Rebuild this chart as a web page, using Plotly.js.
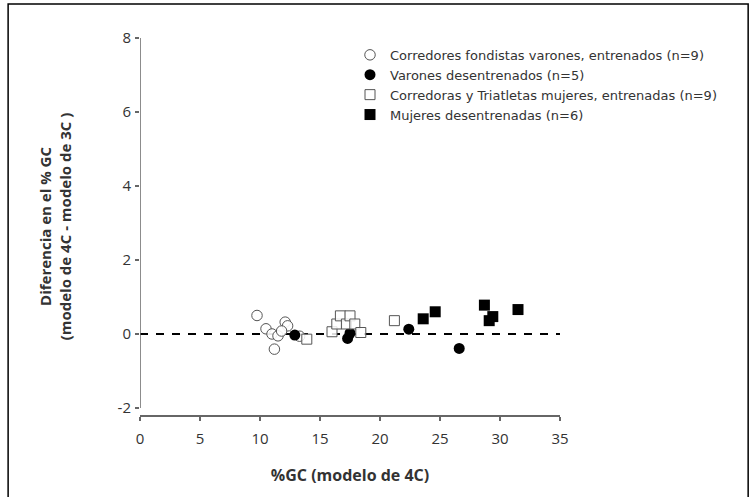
<!DOCTYPE html>
<html>
<head>
<meta charset="utf-8">
<script src="https://cdn.plot.ly/plotly-3.0.1.min.js"></script>
<style>html,body{margin:0;padding:0;background:#fff;}#chart{width:755px;height:497px;}</style>
</head>
<body>
<div id="chart"></div>
<script>
// Data
const seriesNames = [
  "Corredores fondistas varones, entrenados (n=9)",
  "Varones desentrenados (n=5)",
  "Corredoras y Triatletas mujeres, entrenadas (n=9)",
  "Mujeres desentrenadas (n=6)"
];
const menTrainedX = [9.75, 10.5, 11.0, 11.5, 11.2, 12.1, 12.3, 11.8, 13.3];
const menTrainedY = [0.50, 0.14, 0.00, -0.05, -0.41, 0.32, 0.22, 0.08, -0.06];
const menUntrainedX = [12.9, 17.3, 17.5, 22.4, 26.6];
const menUntrainedY = [-0.03, -0.12, 0.02, 0.13, -0.39];
const womenTrainedX = [13.9, 16.0, 16.4, 16.7, 17.2, 17.5, 17.9, 18.4, 21.2];
const womenTrainedY = [-0.14, 0.06, 0.27, 0.49, 0.27, 0.49, 0.27, 0.04, 0.36];
const womenUntrainedX = [23.6, 24.6, 28.7, 29.1, 29.4, 31.5];
const womenUntrainedY = [0.41, 0.60, 0.78, 0.36, 0.47, 0.66];
const xTicks = [0, 5, 10, 15, 20, 25, 30, 35];
const yTicks = [-2, 0, 2, 4, 6, 8];

const FONT = "'Open Sans', Lato, sans-serif";
const LEGFONT = "'DejaVu Sans', 'Open Sans', sans-serif";
const traces = [
  {x: menTrainedX, y: menTrainedY, name: seriesNames[0], mode: "markers", type: "scatter", cliponaxis: false,
   marker: {symbol: "circle", size: 10.5, color: "rgba(255,255,255,0.9)", line: {color: "#555", width: 1}}},
  {x: menUntrainedX, y: menUntrainedY, name: seriesNames[1], mode: "markers", type: "scatter", cliponaxis: false,
   marker: {symbol: "circle", size: 11, color: "#000", line: {color: "#000", width: 0}}},
  {x: womenTrainedX, y: womenTrainedY, name: seriesNames[2], mode: "markers", type: "scatter", cliponaxis: false,
   marker: {symbol: "square", size: 10, color: "rgba(255,255,255,0.85)", line: {color: "#555", width: 1}}},
  {x: womenUntrainedX, y: womenUntrainedY, name: seriesNames[3], mode: "markers", type: "scatter", cliponaxis: false,
   marker: {symbol: "square", size: 11, color: "#000", line: {color: "#000", width: 0}}}
];

const layout = {
  width: 755, height: 497,
  margin: {l: 140, r: 195, t: 38, b: 82, pad: 0},
  paper_bgcolor: "#fff", plot_bgcolor: "#fff",
  font: {family: FONT, size: 14, color: "#333"},
  showlegend: true,
  legend: {x: 0.5, y: 0.995, xanchor: "left", yanchor: "top", bgcolor: "rgba(0,0,0,0)",
           font: {family: LEGFONT, size: 13, color: "#333"}, tracegroupgap: 0, itemwidth: 30},
  xaxis: {range: [0, 35], tickvals: xTicks, ticktext: xTicks.map(String), showgrid: false, zeroline: false,
          showline: true, linecolor: "#666", linewidth: 1.5, ticks: "outside", ticklen: 4, tickcolor: "#666",
          tickwidth: 1.5, ticklabelstandoff: 5, tickfont: {family: FONT, size: 15, color: "#333"},
          title: {text: "<b>%GC (modelo de 4C)</b>", font: {family: FONT, size: 16, color: "#333"}, standoff: 23}},
  yaxis: {range: [-2.19, 8], tickvals: yTicks, ticktext: yTicks.map(String), showgrid: false, zeroline: false,
          showline: false, ticks: "outside", ticklen: 4, tickcolor: "#666", tickwidth: 1.5,
          ticklabelstandoff: 1, tickfont: {family: FONT, size: 15, color: "#333"},
          title: {text: "<b>Diferencia en el % GC<br>(modelo de 4C - modelo de 3C )</b>",
                  font: {family: FONT, size: 15, color: "#333"}, standoff: 42}},
  shapes: [
    {type: "line", xref: "x", yref: "y", x0: 0, x1: 0, y0: -2, y1: 8, line: {color: "#666", width: 1.5}},
    {type: "line", xref: "x", yref: "y", x0: 0, x1: 35, y0: 0, y1: 0, line: {color: "#000", width: 2, dash: "8px,8px"}, layer: "below"},
    {type: "rect", xref: "paper", yref: "paper", x0: -0.314, x1: 1.448, y0: -0.25, y1: 1.09, line: {color: "#000", width: 1.5}, fillcolor: "rgba(0,0,0,0)"}
  ]
};

Plotly.newPlot("chart", traces, layout, {displayModeBar: false, staticPlot: true});
</script>
</body>
</html>
